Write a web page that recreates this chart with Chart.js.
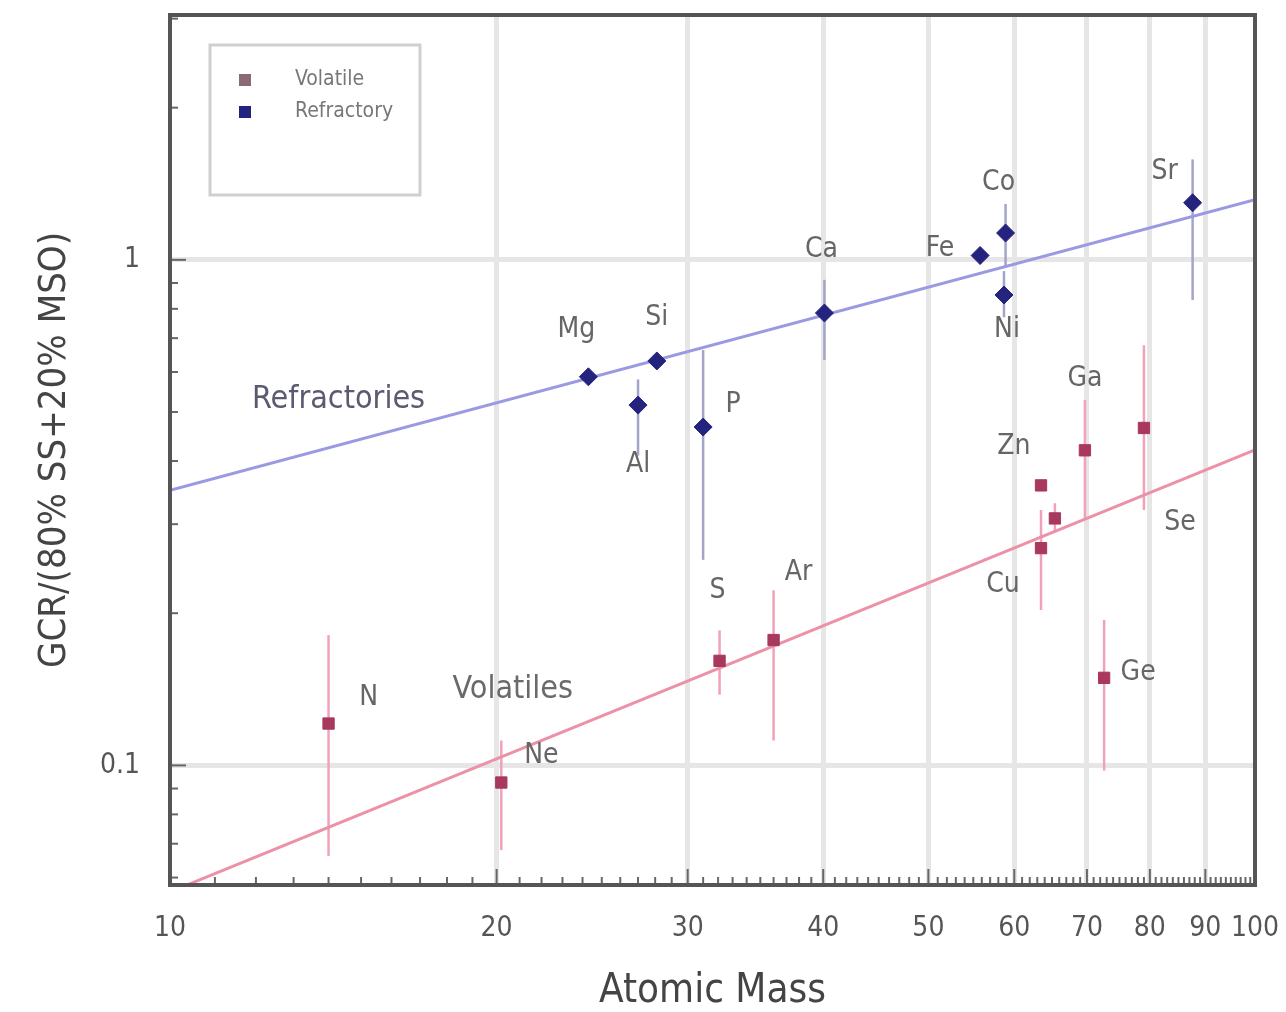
<!DOCTYPE html>
<html>
<head>
<meta charset="utf-8">
<script src="https://cdn.jsdelivr.net/npm/chart.js@4.4.1/dist/chart.umd.min.js"></script>
<style>
  html, body { margin: 0; padding: 0; background: #fff; }
  #wrap { width: 1286px; height: 1012px; }
</style>
</head>
<body>
<div id="wrap"><canvas id="gcrChart" width="1286" height="1012"></canvas></div>
<script>
// Volatile elements
const volNames = ['N', 'Ne', 'S', 'Ar', 'Cu', 'Zn', '', 'Ga', 'Ge', 'Se'];
const volMass  = [14.0, 20.2, 32.1, 36.0, 63.5, 65.4, 63.5, 69.7, 72.6, 79.0];
const volValue = [0.121, 0.0925, 0.161, 0.177, 0.269, 0.308, 0.358, 0.42, 0.149, 0.465];
const volLow   = [0.0662, 0.068, 0.138, 0.112, 0.203, 0.29, 0.358, 0.306, 0.0977, 0.32];
const volHigh  = [0.181, 0.112, 0.185, 0.222, 0.32, 0.33, 0.358, 0.528, 0.194, 0.678];

// Refractory elements
const refNames = ['Mg', 'Al', 'Si', 'P', 'Ca', 'Fe', 'Co', 'Ni', 'Sr'];
const refMass  = [24.3, 27.0, 28.1, 31.0, 40.1, 55.8, 58.9, 58.7, 87.6];
const refValue = [0.587, 0.516, 0.631, 0.467, 0.785, 1.02, 1.13, 0.852, 1.297];
const refLow   = [0.57, 0.41, 0.61, 0.255, 0.634, 0.98, 0.97, 0.77, 0.833];
const refHigh  = [0.60, 0.58, 0.65, 0.663, 0.913, 1.06, 1.29, 0.95, 1.58];

// Fitted trend lines (power law, straight on log-log)
const fitMass   = [10, 100];
const refFit    = [0.350, 1.315];
const volFit    = [0.0562, 0.421];

// Axis ticks
const xTicks      = [10, 20, 30, 40, 50, 60, 70, 80, 90, 100];
const yTicks      = [0.1, 1];
const yTickLabels = ['0.1', '1'];
const yMinorTicks = [0.06, 0.07, 0.08, 0.09, 0.2, 0.3, 0.4, 0.5, 0.6, 0.7, 0.8, 0.9, 2, 3];

// label offsets in px from the point (dx, dy)
const volLabelOffsets = [[40, -26], [40, -27], [-2, -70], [25, -67], [-38, 37], [-41, -72], [0, 0], [0, -72], [34, -5], [36, 95]];
const refLabelOffsets = [[-12, -47], [0, 60], [0, -43], [30, -22], [-3, -63], [-40, -7], [-7, -50], [3, 35], [-28, -31]];

const FONT = '"Liberation Sans Narrow", "Arial Narrow", "DejaVu Sans Condensed", sans-serif';
const RED = '#a8385e';
const BLUE = '#24247e';

const toPoints = (xs, ys) => xs.map((x, i) => ({ x: x, y: ys[i] }));

const decorPlugin = {
    id: 'decor',
    beforeDatasetsDraw(chart) {
        const ctx = chart.ctx;
        const xs = chart.scales.x, ys = chart.scales.y;
        const drawBars = (mass, lo, hi, color) => {
            ctx.save();
            ctx.strokeStyle = color;
            ctx.lineWidth = 2.5;
            mass.forEach((m, i) => {
                if (lo[i] === hi[i]) return;
                const px = xs.getPixelForValue(m);
                ctx.beginPath();
                ctx.moveTo(px, ys.getPixelForValue(lo[i]));
                ctx.lineTo(px, ys.getPixelForValue(hi[i]));
                ctx.stroke();
            });
            ctx.restore();
        };
        drawBars(volMass, volLow, volHigh, '#f2a2b6');
        drawBars(refMass, refLow, refHigh, '#a4a4c8');
    },
    afterDraw(chart) {
        const ctx = chart.ctx;
        const a = chart.chartArea;
        const xs = chart.scales.x, ys = chart.scales.y;
        ctx.save();

        // inside tick marks
        ctx.strokeStyle = '#666';
        ctx.lineWidth = 2;
        for (let m = 11; m < 100; m++) {
            const px = xs.getPixelForValue(m);
            const len = (m % 10 === 0) ? 16 : 8;
            ctx.beginPath();
            ctx.moveTo(px, a.bottom);
            ctx.lineTo(px, a.bottom - len);
            ctx.stroke();
        }
        yMinorTicks.forEach(v => {
            const py = ys.getPixelForValue(v);
            ctx.beginPath();
            ctx.moveTo(a.left, py);
            ctx.lineTo(a.left + 8, py);
            ctx.stroke();
        });
        yTicks.forEach(v => {
            const py = ys.getPixelForValue(v);
            ctx.beginPath();
            ctx.moveTo(a.left, py);
            ctx.lineTo(a.left + 16, py);
            ctx.stroke();
        });

        // frame
        ctx.strokeStyle = '#555';
        ctx.lineWidth = 4;
        ctx.strokeRect(a.left, a.top, a.right - a.left, a.bottom - a.top);

        // element labels
        ctx.fillStyle = '#666';
        ctx.font = '28px ' + FONT;
        ctx.textAlign = 'center';
        ctx.textBaseline = 'middle';
        const drawNames = (names, mass, vals, offs) => {
            names.forEach((n, i) => {
                if (!n) return;
                const px = xs.getPixelForValue(mass[i]) + offs[i][0];
                const py = ys.getPixelForValue(vals[i]) + offs[i][1];
                ctx.fillText(n, px, py);
            });
        };
        drawNames(volNames, volMass, volValue, volLabelOffsets);
        drawNames(refNames, refMass, refValue, refLabelOffsets);

        // group labels
        ctx.font = '32px ' + FONT;
        ctx.fillStyle = '#5a5a70';
        ctx.fillText('Refractories', xs.getPixelForValue(14.3), ys.getPixelForValue(0.528));
        ctx.fillStyle = '#6a6a6a';
        ctx.fillText('Volatiles', xs.getPixelForValue(20.7), ys.getPixelForValue(0.141));

        // legend box
        const lx = 210, ly = 45;
        ctx.strokeStyle = '#cfcfcf';
        ctx.lineWidth = 3;
        ctx.strokeRect(lx, ly, 210, 150);
        ctx.font = '21px ' + FONT;
        ctx.textAlign = 'left';
        ctx.fillStyle = '#8a6a72';
        ctx.fillRect(lx + 29, ly + 29, 12, 12);
        ctx.fillStyle = BLUE;
        ctx.fillRect(lx + 29, ly + 61, 12, 12);
        ctx.fillStyle = '#777';
        ctx.fillText(chart.data.datasets[0].label, lx + 85, ly + 35);
        ctx.fillText(chart.data.datasets[1].label, lx + 85, ly + 67);
        ctx.restore();
    }
};

const chart = new Chart(document.getElementById('gcrChart'), {
    type: 'scatter',
    data: {
        datasets: [
            {
                label: 'Volatile',
                data: toPoints(volMass, volValue),
                pointStyle: 'rect',
                pointRadius: 8,
                backgroundColor: RED,
                borderColor: RED,
                order: 1
            },
            {
                label: 'Refractory',
                data: toPoints(refMass, refValue),
                pointStyle: 'rectRot',
                pointRadius: 9,
                backgroundColor: BLUE,
                borderColor: BLUE,
                order: 1
            },
            {
                label: 'Refractory fit',
                type: 'line',
                data: toPoints(fitMass, refFit),
                borderColor: '#9a9ae2',
                borderWidth: 3,
                pointRadius: 0,
                fill: false,
                order: 2
            },
            {
                label: 'Volatile fit',
                type: 'line',
                data: toPoints(fitMass, volFit),
                borderColor: '#ec92a8',
                borderWidth: 3,
                pointRadius: 0,
                fill: false,
                order: 2
            }
        ]
    },
    options: {
        responsive: false,
        animation: false,
        layout: { padding: { top: 15, right: 31, left: 0, bottom: 0 } },
        plugins: {
            legend: { display: false },
            tooltip: { enabled: false }
        },
        scales: {
            x: {
                type: 'logarithmic',
                min: 10,
                max: 100,
                afterBuildTicks: s => { s.ticks = xTicks.map(v => ({ value: v })); },
                afterFit: s => { s.height = 127; s.paddingLeft = 0; s.paddingRight = 0; },
                ticks: {
                    callback: v => String(v),
                    autoSkip: false,
                    maxRotation: 0,
                    padding: 30,
                    color: '#555',
                    font: { family: FONT, size: 28, lineHeight: 1 }
                },
                grid: {
                    drawTicks: false,
                    lineWidth: 5,
                    color: c => (c.tick && c.tick.value > 10 && c.tick.value < 100) ? '#e6e6e6' : 'rgba(0,0,0,0)'
                },
                border: { display: false },
                title: {
                    display: true,
                    text: 'Atomic Mass',
                    color: '#444',
                    padding: { top: 0, bottom: 0 },
                    font: { family: FONT, size: 40, lineHeight: 1 }
                }
            },
            y: {
                type: 'logarithmic',
                min: 0.058,
                max: 3.05,
                afterBuildTicks: s => { s.ticks = yTicks.map(v => ({ value: v })); },
                afterFit: s => { s.width = 170; s.paddingTop = 0; s.paddingBottom = 0; },
                ticks: {
                    callback: v => yTickLabels[yTicks.indexOf(v)],
                    padding: 30,
                    color: '#555',
                    font: { family: FONT, size: 28, lineHeight: 1 }
                },
                grid: {
                    drawTicks: false,
                    lineWidth: 5,
                    color: '#e6e6e6'
                },
                border: { display: false },
                title: {
                    display: true,
                    text: 'GCR/(80% SS+20% MSO)',
                    color: '#444',
                    padding: { top: 36, bottom: 0 },
                    font: { family: FONT, size: 38, lineHeight: 1 }
                }
            }
        }
    },
    plugins: [decorPlugin]
});
</script>
</body>
</html>
